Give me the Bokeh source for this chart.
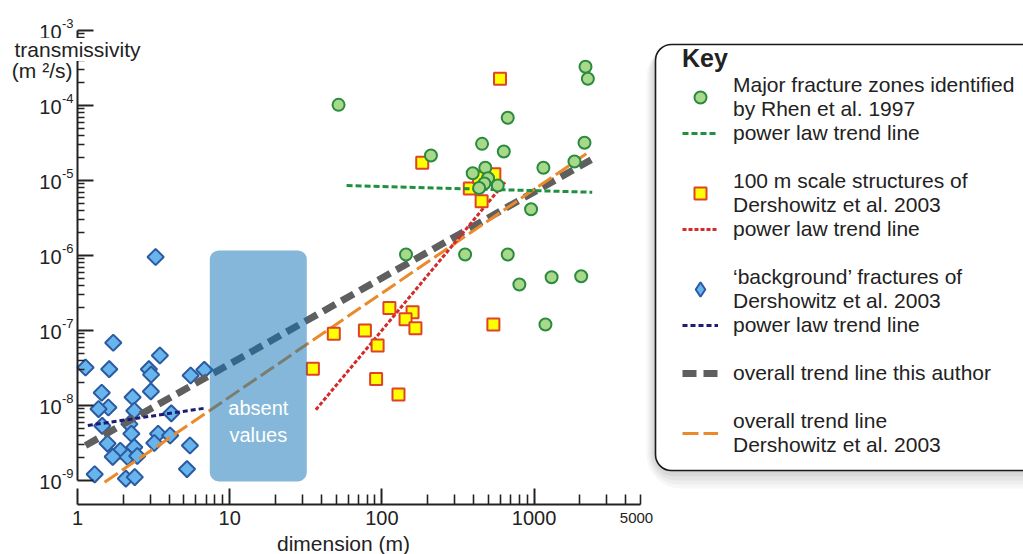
from bokeh.plotting import figure
from bokeh.models import (FixedTicker, Label, BoxAnnotation, Legend, LegendItem,
                          Range1d, CustomJSTickFormatter)
from bokeh.embed import file_html
from bokeh.resources import INLINE

FONT = "Liberation Sans"
TXT = "#222222"

# ---------------- data ----------------
rhen_dim = [51.9, 2176, 2255, 671, 455, 632, 2143, 210, 1151, 1841, 395, 478,
            498, 471, 435, 577, 955, 144, 352, 671, 800, 1303, 2038, 1187]
rhen_T = [1.02e-4, 3.28e-4, 2.27e-4, 6.86e-5, 3.08e-5, 2.44e-5, 3.18e-5, 2.15e-5,
          1.48e-5, 1.79e-5, 1.25e-5, 1.48e-5, 1.07e-5, 9.12e-6, 7.94e-6, 8.57e-6,
          4.14e-6, 1.03e-6, 1.03e-6, 1.03e-6, 4.1e-7, 5.14e-7, 5.3e-7, 1.2e-7]

d100_dim = [597, 184, 378, 548, 452, 435, 112, 159, 143, 166, 48.3, 77.3, 93.7,
            35.2, 91.6, 128.5, 540]
d100_T = [2.27e-4, 1.72e-5, 7.82e-6, 1.21e-5, 5.29e-6, 1.1e-5, 2.0e-7, 1.75e-7,
          1.41e-7, 1.07e-7, 9.04e-8, 1.0e-7, 6.31e-8, 3.08e-8, 2.25e-8, 1.4e-8, 1.2e-7]

bg_dim = [1.718, 3.478, 1.129, 1.616, 2.945, 3.044, 5.54, 6.81, 3.035, 1.443, 2.301,
          1.595, 1.375, 2.364, 4.135, 1.454, 2.192, 2.259, 3.386, 4.06, 3.196, 1.575,
          2.36, 1.91, 1.704, 2.138, 2.47, 5.48, 5.24, 1.297, 2.078, 2.378, 3.26]
bg_T = [6.86e-8, 4.64e-8, 3.21e-8, 3.05e-8, 3.05e-8, 2.58e-8, 2.51e-8, 2.99e-8,
        1.54e-8, 1.48e-8, 1.29e-8, 9.4e-9, 8.97e-9, 8.5e-9, 7.87e-9, 5.36e-9,
        5.64e-9, 4.2e-9, 4.2e-9, 3.98e-9, 3.16e-9, 3.11e-9, 2.78e-9, 2.49e-9,
        2.07e-9, 2.05e-9, 2.12e-9, 2.93e-9, 1.42e-9, 1.21e-9, 1.06e-9, 1.11e-9, 9.55e-7]

rhen_trend_dim = [58.6, 2408]
rhen_trend_T = [8.57e-6, 6.98e-6]
d100_trend_dim = [36.8, 644]
d100_trend_T = [8.77e-9, 9.48e-6]
bg_trend_dim = [1.169, 6.85]
bg_trend_T = [5.41e-9, 9.2e-9]
author_trend_dim = [1.129, 2371]
author_trend_T = [2.93e-9, 1.89e-5]
dersh_trend_dim = [1.506, 2233]
dersh_trend_T = [9.5e-10, 2.31e-5]

absent_dim = [7.4, 32.1]
absent_T = [0.97e-9, 1.17e-6]

x_major = [1, 10, 100, 1000]
x_end = 5000
y_exponents = [-9, -8, -7, -6, -5, -4, -3]

# ---------------- figure (frame = whole canvas, axes fixed inside) ----------------
W, H = 1023, 554
AX_L, AX_R = 77, 640          # pixel extent of the x axis (1 .. 5000)
Y_TOP, PX_DEC = 30, 75        # pixel of 1e-3, pixels per decade on y
px_dec_x = (AX_R - AX_L) / 3.69897
x_lo = 10 ** (-AX_L / px_dec_x)
x_hi = 10 ** ((W - AX_L) / px_dec_x)
y_hi = 10 ** (-3 + Y_TOP / PX_DEC)
y_lo = 10 ** (-3 - (H - Y_TOP) / PX_DEC)
x_axis_at = 10 ** (-9 - 24 / PX_DEC)

p = figure(width=W, height=H, x_axis_type="log", y_axis_type="log",
           x_range=Range1d(x_lo, x_hi), y_range=Range1d(y_lo, y_hi),
           output_backend="svg", toolbar_location=None, min_border=0)
p.outline_line_color = None
p.grid.visible = False
p.background_fill_color = "white"
p.border_fill_color = "white"

# x axis
xa = p.xaxis[0]
x_minor = [k * 10 ** e for e in range(0, 3) for k in range(2, 10)] + [2000, 3000, 4000, 5000]
xa.ticker = FixedTicker(ticks=x_major, minor_ticks=x_minor)
xa.formatter = CustomJSTickFormatter(code="return String(Math.round(tick));")
xa.bounds = (1, x_end)
xa.fixed_location = x_axis_at
xa.axis_line_width = 2
xa.axis_line_color = TXT
xa.major_tick_line_width = 2
xa.major_tick_line_color = TXT
xa.minor_tick_line_width = 1.6
xa.minor_tick_line_color = TXT
xa.major_tick_in = 16
xa.major_tick_out = 0
xa.minor_tick_in = 10
xa.minor_tick_out = 0
xa.major_label_text_font = FONT
xa.major_label_text_font_size = "20px"
xa.major_label_text_color = TXT
xa.major_label_standoff = 6

# y axis
ya = p.yaxis[0]
y_major = [10.0 ** e for e in y_exponents]
y_minor = [k * 10.0 ** e for e in y_exponents[:-1] for k in range(2, 10)]
ya.ticker = FixedTicker(ticks=y_major, minor_ticks=y_minor)
ya.formatter = CustomJSTickFormatter(code="return '';")
ya.bounds = (1e-9, 1e-3)
ya.fixed_location = 1
ya.axis_line_width = 2
ya.axis_line_color = TXT
ya.major_tick_line_width = 2
ya.major_tick_line_color = TXT
ya.minor_tick_line_width = 1.6
ya.minor_tick_line_color = TXT
ya.major_tick_in = 16
ya.major_tick_out = 0
ya.minor_tick_in = 7
ya.minor_tick_out = 0

for e in y_exponents:
    p.add_layout(Label(x=61, y=10.0 ** e, x_units="canvas", y_units="data", text="10",
                       text_align="right", text_baseline="middle", y_offset=-1.5,
                       text_font=FONT, text_font_size="20px", text_color=TXT))
    p.add_layout(Label(x=61.5, y=10.0 ** e, x_units="canvas", y_units="data", text=str(e),
                       text_align="left", text_baseline="middle", y_offset=7,
                       text_font=FONT, text_font_size="13px", text_color=TXT))

p.add_layout(Label(x=x_end, y=517, x_units="data", y_units="canvas", text=str(x_end),
                   text_align="center", text_baseline="middle", x_offset=-4,
                   text_font=FONT, text_font_size="15px", text_color=TXT))
p.add_layout(Label(x=343, y=543, x_units="canvas", y_units="canvas", text="dimension (m)",
                   text_align="center", text_baseline="middle",
                   text_font=FONT, text_font_size="21px", text_color=TXT))
p.add_layout(Label(x=77, y=49, x_units="canvas", y_units="canvas", text="transmissivity",
                   text_align="center", text_baseline="middle",
                   background_fill_color="white",
                   text_font=FONT, text_font_size="21px", text_color=TXT))
p.add_layout(Label(x=72, y=70, x_units="canvas", y_units="canvas", text="(m \u00b2/s)",
                   text_align="right", text_baseline="middle",
                   text_font=FONT, text_font_size="21px", text_color=TXT))

# ---------------- marks ----------------
BG_FILL, BG_LINE = "#68b4ec", "#2c5aa0"
# diamond-marker copy of the background data for the key; it sits fully hidden
# beneath the (larger) rotated squares drawn next
r_bg_key = p.scatter(bg_dim, bg_T, marker="diamond", size=12,
                     fill_color=BG_FILL, line_color=BG_LINE, line_width=2)
r_bg = p.scatter(bg_dim, bg_T, marker="square", angle=0.785398, size=11.5,
                 fill_color=BG_FILL, line_color=BG_LINE, line_width=2)
l_author = p.line(author_trend_dim, author_trend_T, line_color="#5f5f5f",
                  line_width=7, line_dash="14 7")
l_dersh = p.line(dersh_trend_dim, dersh_trend_T, line_color="#ea8a2a",
                 line_width=3, line_dash="16 5")
l_bg = p.line(bg_trend_dim, bg_trend_T, line_color="#1c1c78", line_width=3,
              line_dash="5 3")
l_d100 = p.line(d100_trend_dim, d100_trend_T, line_color="#d42a2a", line_width=3,
                line_dash="4 2")
r_d100 = p.scatter(d100_dim, d100_T, marker="square", size=12,
                   fill_color="#ffff00", line_color="#e0412b", line_width=2)
l_rhen = p.line(rhen_trend_dim, rhen_trend_T, line_color="#1e9040", line_width=3,
                line_dash="6 3")
r_rhen = p.scatter(rhen_dim, rhen_T, marker="circle", size=12,
                   fill_color="#a8d88a", line_color="#2a8a3e", line_width=2)

# absent values box (semi-transparent, over the trend lines)
p.add_layout(BoxAnnotation(left=absent_dim[0], right=absent_dim[1],
                           bottom=absent_T[0], top=absent_T[1],
                           fill_color="#0a6fb4", fill_alpha=0.5, line_color=None,
                           border_radius=9))
p.add_layout(Label(x=(absent_dim[0] * absent_dim[1]) ** 0.5, y=6.1e-9, text="absent\nvalues",
                   text_align="center", text_baseline="middle", text_color="white",
                   text_font=FONT, text_font_size="20px", text_line_height=1.2))

# ---------------- key box ----------------
for i, a in enumerate([0.05, 0.045, 0.04, 0.035, 0.03]):
    d = 2 + 4 * i
    p.add_layout(BoxAnnotation(left=655 - d * 0.5, right=1060, top=44 - d * 0.3 + 4,
                               bottom=470 + d, left_units="canvas", right_units="canvas",
                               top_units="canvas", bottom_units="canvas",
                               fill_color="black", fill_alpha=a, line_color=None,
                               border_radius=16 + d, level="underlay"))
p.add_layout(BoxAnnotation(left=655, right=1050, top=44, bottom=470,
                           left_units="canvas", right_units="canvas",
                           top_units="canvas", bottom_units="canvas",
                           fill_color="white", fill_alpha=1, line_color="#1a1a1a",
                           line_alpha=1, line_width=1.6, border_radius=16,
                           level="underlay"))

spacer = p.line([], [], line_alpha=0)
items = [
    LegendItem(label="Major fracture zones identified\nby Rhen et al. 1997", renderers=[r_rhen]),
    LegendItem(label="power law trend line", renderers=[l_rhen]),
    LegendItem(label=" ", renderers=[spacer]),
    LegendItem(label="100 m scale structures of\nDershowitz et al. 2003", renderers=[r_d100]),
    LegendItem(label="power law trend line", renderers=[l_d100]),
    LegendItem(label=" ", renderers=[spacer]),
    LegendItem(label="\u2018background\u2019 fractures of\nDershowitz et al. 2003", renderers=[r_bg_key]),
    LegendItem(label="power law trend line", renderers=[l_bg]),
    LegendItem(label=" ", renderers=[spacer]),
    LegendItem(label="overall trend line this author", renderers=[l_author]),
    LegendItem(label=" ", renderers=[spacer]),
    LegendItem(label="overall trend line\nDershowitz et al. 2003", renderers=[l_dersh]),
]
legend = Legend(items=items, location=(670, 85), title="Key",
                title_text_font=FONT, title_text_font_size="25px",
                title_text_font_style="bold", title_text_color=TXT, title_standoff=0,
                label_text_font=FONT, label_text_font_size="21px",
                label_text_line_height=1.14, label_text_color=TXT,
                label_height=24, glyph_height=24, glyph_width=36, label_standoff=15,
                spacing=0, padding=12, margin=0,
                border_line_alpha=0, background_fill_alpha=0)
p.add_layout(legend)

# larger marker symbols of the key, drawn over the small ones
marker_key = Legend(items=[LegendItem(label=" ", renderers=[r_rhen]),
                           LegendItem(label=" ", renderers=[r_d100])],
                    location=(682, 346), glyph_width=36, glyph_height=30,
                    label_height=30, spacing=66, padding=0, margin=0,
                    label_standoff=0, label_text_font_size="10px",
                    border_line_alpha=0, background_fill_alpha=0)
p.add_layout(marker_key)
diamond_key = Legend(items=[LegendItem(label=" ", renderers=[r_bg_key])],
                     location=(682, 245), glyph_width=36, glyph_height=40,
                     label_height=40, spacing=0, padding=0, margin=0,
                     label_standoff=0, label_text_font_size="10px",
                     border_line_alpha=0, background_fill_alpha=0)
p.add_layout(diamond_key)

open("out.html", "w").write(file_html(p, INLINE))
